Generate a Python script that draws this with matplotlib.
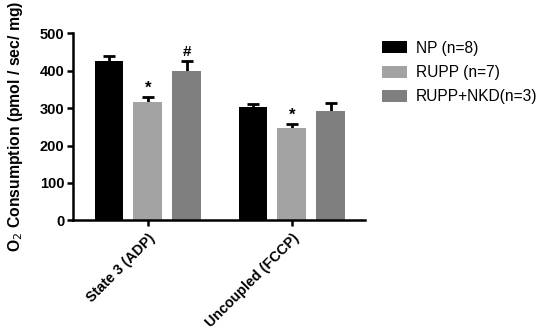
import numpy as np
import matplotlib.pyplot as plt
from matplotlib.transforms import ScaledTranslation

plt.rcParams['font.family'] = ['Liberation Sans', 'DejaVu Sans']

# Datos
condiciones = ['State 3 (ADP)', 'Uncoupled (FCCP)']
grupos = ['NP (n=8)', 'RUPP (n=7)', 'RUPP+NKD(n=3)']
medias = {
    'NP (n=8)': [426, 302],
    'RUPP (n=7)': [316, 247],
    'RUPP+NKD(n=3)': [400, 291],
}
errores = {
    'NP (n=8)': [12, 9],
    'RUPP (n=7)': [14, 10],
    'RUPP+NKD(n=3)': [27, 23],
}
marcas = {
    'RUPP (n=7)': ['*', '*'],
    'RUPP+NKD(n=3)': ['#', ''],
}
colores = ['#000000', '#a3a3a3', '#7f7f7f']

fig = plt.figure(figsize=(5.39, 3.29), dpi=100)
ax = fig.add_axes([0.135, 0.330, 0.542, 0.569])

x = np.arange(len(condiciones))
ancho = 0.2
desp = [-0.27, 0.0, 0.27]

for i, g in enumerate(grupos):
    pos = x + desp[i]
    ax.bar(pos, medias[g], ancho, color=colores[i], label=g, zorder=2)
    ax.errorbar(pos, medias[g], yerr=errores[g], fmt='none',
                ecolor='black', elinewidth=2, capsize=4, capthick=2, zorder=1)
    for j, m in enumerate(marcas.get(g, [])):
        if m:
            y = medias[g][j] + errores[g][j] + 4
            ax.text(pos[j], y, m, ha='center', va='bottom',
                    fontsize=11 if m == '#' else 12, fontweight='bold')

ax.set_xlim(-0.521, 1.507)
ax.set_ylim(0, 500)
ax.set_yticks([0, 100, 200, 300, 400, 500])
ax.set_xticks(x)
ax.set_xticklabels(condiciones, rotation=45, ha='right', rotation_mode='anchor',
                   fontweight='bold', fontsize=10.3)
for lab in ax.get_xticklabels():
    lab.set_transform(lab.get_transform() + ScaledTranslation(0.07, 0, fig.dpi_scale_trans))
for lab in ax.get_yticklabels():
    lab.set_fontweight('bold')
    lab.set_fontsize(10.5)

ax.spines['top'].set_visible(False)
ax.spines['right'].set_visible(False)
ax.spines['left'].set_linewidth(1.8)
ax.spines['bottom'].set_linewidth(1.8)
ax.tick_params(width=1.8, length=4)
ax.tick_params(axis='y', pad=2)

ax.set_ylabel('O$_2$ Consumption (pmol / sec/ mg)', fontweight='bold', fontsize=11.3)
ax.yaxis.set_label_coords(-0.165, 0.5)

ax.legend(loc='upper left', bbox_to_anchor=(1.01, 1.035), frameon=False,
          fontsize=11.2, handlelength=1.6, handleheight=0.8, labelspacing=0.6,
          handletextpad=0.6)

fig.savefig('out.png', dpi=100)
